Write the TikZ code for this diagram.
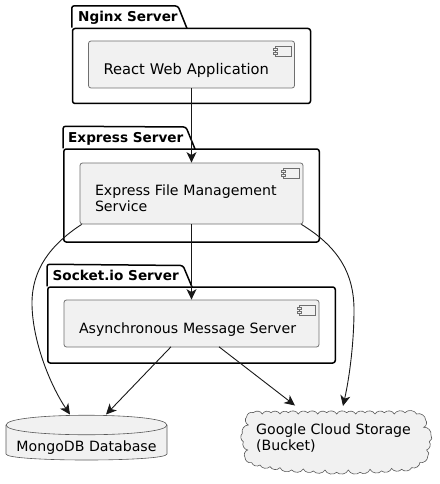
\documentclass[tikz,border=0pt]{standalone}
\usepackage{fontspec}
\setmainfont{DejaVu Sans}
\usepackage{tikz}
\usetikzlibrary{positioning}
\usetikzlibrary{arrows.meta}
\definecolor{boxfill}{HTML}{F1F1F1}
\definecolor{boxline}{HTML}{6F6F6F}
\newcommand{\compicon}[1]{%
	\draw[iconline] ([xshift=-20pt,yshift=-6pt]#1.north east) rectangle ([xshift=-4pt,yshift=-16pt]#1.north east);
	\draw[iconline,fill=boxfill] ([xshift=-22pt,yshift=-8pt]#1.north east) rectangle ([xshift=-18pt,yshift=-10pt]#1.north east);
	\draw[iconline,fill=boxfill] ([xshift=-22pt,yshift=-12pt]#1.north east) rectangle ([xshift=-18pt,yshift=-14pt]#1.north east);
}
\begin{document}
\begin{tikzpicture}[
	x=1pt, y=-1pt,
	every node/.style={font=\fontsize{14.15}{16}\selectfont, text=black},
	packbox/.style={rectangle, draw=black, line width=1.5pt, rounded corners=2.5pt, inner sep=0pt},
	packtab/.style={line width=1.5pt, rounded corners=2.5pt, line join=round},
	packname/.style={font=\fontsize{13.6}{16}\selectfont\bfseries, anchor=base west, inner sep=0pt},
	compbox/.style={rectangle, draw=boxline, fill=boxfill, line width=0.8pt, rounded corners=2.5pt, inner ysep=0pt, inner xsep=15pt, align=left},
	iconline/.style={draw=boxline, line width=0.8pt},
	storeline/.style={draw=black!65, fill=boxfill, line width=0.6pt},
	conn/.style={draw=black!90, line width=0.9pt, -{Stealth[length=10.5pt,width=10pt,inset=3pt]}},
	]
	\useasboundingbox (0,0) rectangle (439,484);
	%Packages
	\node[packbox, minimum width=238, minimum height=75] (nginx) at (191.5,66) {};
	\draw[packtab] (nginx.north west) -- ++(0,-22) -- (178,6) -- (187,28.5);
	\node[packname] (nginxname) at (78,22) {Nginx Server};

	\node[packbox, minimum width=255.5, minimum height=93] (expressp) at (191.5,195.5) {};
	\draw[packtab] (expressp.north west) -- ++(0,-22) -- (186,127) -- (195,149);
	\node[packname] (expressname) at (68,142) {Express Server};

	\node[packbox, minimum width=287.5, minimum height=76] (socketp) at (191.5,325) {};
	\draw[packtab] (socketp.north west) -- ++(0,-22) -- (183,265.5) -- (192,287);
	\node[packname] (socketname) at (52.5,280) {Socket.io Server};

	%Components
	\node[compbox, text width=176, text height=34, text depth=13, font=\fontsize{14.7}{16}\selectfont] (react) at (191.5,64.5) {React Web Application};
	\node[compbox, text width=193, text height=32, text depth=29] (express) at (191.5,193.5) {Express File Management\\Service};
	\node[compbox, text width=225, text height=33, text depth=14] (async) at (191.5,323.5) {Asynchronous Message Server};
	\compicon{react}
	\compicon{express}
	\compicon{async}

	%Database and bucket
	\filldraw[storeline] (6,425) .. controls (6,412) and (167,412) .. (167,425) -- (167,454) .. controls (167,462) and (6,462) .. (6,454) -- cycle;
	\draw[storeline, fill=none] (6,425) .. controls (6,438) and (167,438) .. (167,425);
	\node[inner sep=0pt] (mongo) at (86.5,448) {MongoDB Database};
	\begin{scope}[shift={(235,400)}, x=0.3333pt, y=-0.3333pt]
		\filldraw[storeline] (35,50) foreach \px/\py in {55/38,82/42,108/38,135/42,160/38,190/42,218/38,248/42,275/38,305/42,335/38,362/42,390/38,420/42,448/38,478/42,510/38,545/42,572/60,566/82,588/105,583/125,575/150,578/170,555/187,530/203,500/208,470/205,440/213,405/208,375/217,340/210,305/217,270/210,235/213,205/207,170/210,135/203,105/200,75/195,50/188,30/172,38/150,25/125,22/100,40/75} { to[bend left=55] (\px,\py) } to[bend left=55] (35,50) -- cycle;
	\end{scope}
	\node[inner sep=0pt, align=left, anchor=west] (gcsname) at (256,438) {Google Cloud Storage\\(Bucket)};

	%Lines
	\coordinate (asyncl) at (171,346.8);
	\coordinate (asyncr) at (219,346.8);
	\coordinate (mongol) at (70,414.5);
	\coordinate (mongor) at (106,414.5);
	\coordinate (gcsl) at (295,405.5);
	\coordinate (gcsr) at (343,406);
	\draw[conn] (react.south) -- (express.north);
	\draw[conn] (express.south) -- (async.north);
	\draw[conn] (asyncl) -- (mongor);
	\draw[conn] (asyncr) -- (gcsl);
	\draw[conn] ([xshift=2pt]express.south west) .. controls (50,245) and (32,270) .. (32,303) .. controls (32,340) and (50,385) .. (mongol);
	\draw[conn] ([xshift=-2pt]express.south east) .. controls (335,245) and (354,270) .. (354,310) .. controls (354,340) and (350,375) .. (gcsr);
\end{tikzpicture}
\end{document}
